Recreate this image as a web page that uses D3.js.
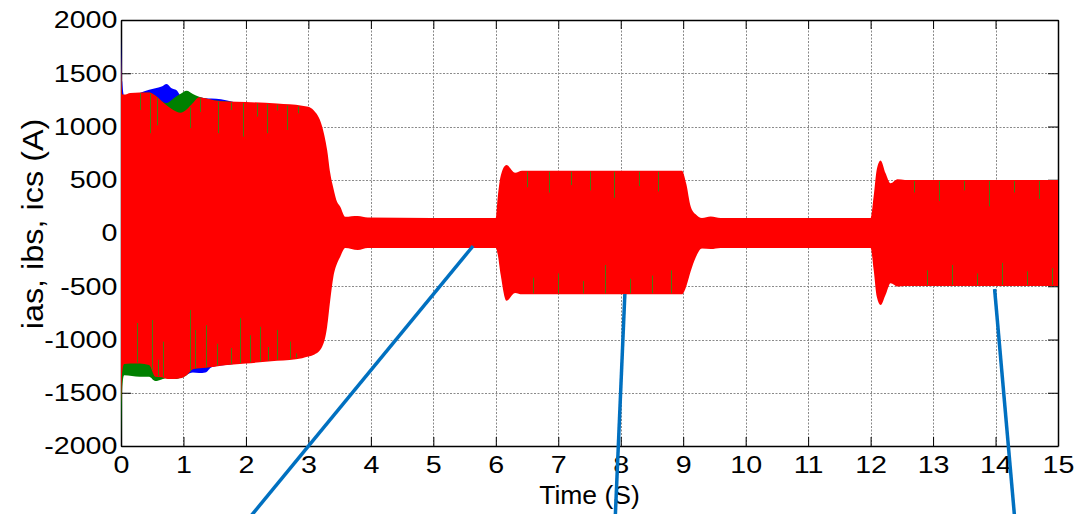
<!DOCTYPE html>
<html lang="en">
    <head>
        <meta charset="utf-8">
        <title>ias, ibs, ics (A)</title>
        <script type="text/javascript" src="https://cdn.jsdelivr.net/npm/d3@7"></script>
        <style>
            body { margin: 0; background: #fff; }
        </style>
    </head>
    <body>
        <script type="text/javascript">
        // envelope of the red phase (drawn on top)
        var redTime  = [0, 0.02, 0.05, 0.15, 0.3, 0.45, 0.55, 0.65, 0.75, 0.85, 0.95, 1.05, 1.15, 1.25, 1.35,
                        1.5, 1.7, 2.0, 2.5, 2.9, 3.0, 3.08, 3.22, 3.30, 3.35, 3.40, 3.46, 3.51, 3.59, 3.79, 3.95,
                        6.0, 6.03, 6.08, 6.17, 6.31, 6.42, 8.98, 9.05, 9.12, 9.2, 9.3, 9.44, 9.6,
                        12.0, 12.05, 12.1, 12.16, 12.24, 12.32, 12.43, 12.55, 15.0];
        var redUpper = [1690, 1300, 1300, 1315, 1320, 1320, 1290, 1240, 1190, 1150, 1130, 1160, 1220, 1275, 1265,
                        1245, 1235, 1230, 1215, 1195, 1185, 1155, 1000, 780, 560, 420, 290, 247, 153, 160, 145,
                        140, 330, 540, 638, 566, 585, 585, 460, 250, 175, 140, 155, 140,
                        140, 350, 600, 680, 560, 466, 504, 498, 498];
        var redLower = [-1600, -1300, -1230, -1225, -1225, -1240, -1350, -1355, -1370, -1370, -1365, -1335, -1280, -1270, -1265,
                        -1255, -1240, -1225, -1200, -1175, -1160, -1145, -1067, -880, -630, -410, -285, -222, -141, -160, -140,
                        -140, -200, -400, -636, -563, -576, -576, -500, -360, -230, -145, -150, -140,
                        -140, -350, -600, -676, -580, -472, -502, -498, -498];

        // blue and green only show during start-up, later they hide under red
        var startTime  = [0, 0.02, 0.05, 0.3, 0.45, 0.55, 0.65, 0.73, 0.81, 0.89, 0.95, 1.05, 1.15, 1.25, 1.35, 1.45, 1.6, 1.8];
        var blueUpper  = [1850, 1420, 1290, 1315, 1345, 1360, 1375, 1400, 1360, 1340, 1290, 1260, 1260, 1275, 1265, 1262, 1255, 1230];
        var blueLower  = [-1550, -1300, -1230, -1225, -1240, -1340, -1350, -1360, -1360, -1360, -1350, -1330, -1310, -1315, -1310, -1260, -1245, -1230];
        var greenUpper = [1650, 1300, 1290, 1315, 1320, 1290, 1240, 1220, 1250, 1285, 1305, 1336, 1306, 1280, 1262, 1250, 1240, 1230];
        var greenLower = [-1950, -1440, -1335, -1350, -1350, -1390, -1375, -1365, -1370, -1370, -1360, -1335, -1280, -1270, -1265, -1255, -1240, -1230];

        // thin dark stripes inside the red band (positive = hangs from top edge)
        var stripeTime = [0.25, 0.5, 0.6, 0.67, 1.1, 1.18, 1.36, 1.54, 1.76, 1.9, 2.06, 2.22, 2.36, 2.5, 2.7, 2.8,
                          0.3, 0.47, 0.57, 1.1, 1.27, 1.55, 1.76, 1.96, 2.17, 2.33, 2.5, 2.65, 2.84,
                          6.5, 6.85, 7.2, 7.5, 7.9, 8.3, 8.6, 6.6, 7.0, 7.4, 7.75, 8.15, 8.5, 8.8,
                          12.7, 13.1, 13.5, 13.9, 14.3, 14.7, 12.9, 13.3, 13.7, 14.1, 14.5, 14.9];
        var stripeEnd  = [-845, -817, -1190, -1020, -723, -911, -866, -1040, -1080, -800, -960, -880, -1070, -910, -1020, -1130,
                          1155, 937, 1010, 985, 1136, 937, 1155, 905, 1093, 937, 1150, 967, 1124,
                          430, 380, 450, 400, 330, 440, 390, -420, -380, -450, -300, -430, -400, -350,
                          380, 300, 400, 250, 380, 320, -350, -300, -380, -280, -360, -330];

        var xTicks = [0, 1, 2, 3, 4, 5, 6, 7, 8, 9, 10, 11, 12, 13, 14, 15];
        var yTicks = [-2000, -1500, -1000, -500, 0, 500, 1000, 1500, 2000];

        // blue pointer lines, in data units (they run past the axes)
        var pointerX1 = [5.636, 8.066, 13.985];
        var pointerY1 = [-122, -573, -526];
        var pointerX2 = [2.02, 7.91, 14.31];
        var pointerY2 = [-2700, -2700, -2700];

        var w = 1079;
        var h = 514;
        var font = "'Liberation Sans', Arial, sans-serif";
        var plain = function(d) { return String(d); };

        var x = d3.scaleLinear().domain([0, 15]).range([121, 1058]);
        var y = d3.scaleLinear().domain([-2000, 2000]).range([446, 20]);

        var svg = d3.select("body")
                    .append("svg")
                    .attr("width", w)
                    .attr("height", h)
                    .style("display", "block");

        svg.append("rect")
            .attr("width", w)
            .attr("height", h)
            .attr("fill", "white");

        // dotted grid
        var grid = svg.append("g");
        grid.selectAll("line.gx")
            .data(xTicks.slice(1, -1))
            .enter()
            .append("line")
            .attr("class", "gx")
            .attr("x1", function(d) { return Math.round(x(d)) + 0.5; })
            .attr("x2", function(d) { return Math.round(x(d)) + 0.5; })
            .attr("y1", y(2000))
            .attr("y2", y(-2000));
        grid.selectAll("line.gy")
            .data(yTicks.slice(1, -1))
            .enter()
            .append("line")
            .attr("class", "gy")
            .attr("x1", x(0))
            .attr("x2", x(15))
            .attr("y1", function(d) { return Math.round(y(d)) + 0.5; })
            .attr("y2", function(d) { return Math.round(y(d)) + 0.5; });
        grid.selectAll("line")
            .attr("stroke", "#8a8a8a")
            .attr("stroke-width", 1)
            .attr("stroke-dasharray", "2,1.5");

        // box with inward ticks
        var axBottom = svg.append("g")
            .attr("transform", "translate(0," + y(-2000) + ")")
            .call(d3.axisBottom(x).tickValues(xTicks).tickFormat(plain).tickSize(-9).tickSizeOuter(0).tickPadding(10));
        var axTop = svg.append("g")
            .attr("transform", "translate(0," + y(2000) + ")")
            .call(d3.axisTop(x).tickValues(xTicks).tickSize(-9).tickSizeOuter(0).tickFormat(""));
        var axLeft = svg.append("g")
            .attr("transform", "translate(" + x(0) + ",0)")
            .call(d3.axisLeft(y).tickValues(yTicks).tickFormat(plain).tickSize(-10).tickSizeOuter(0).tickPadding(3));
        var axRight = svg.append("g")
            .attr("transform", "translate(" + x(15) + ",0)")
            .call(d3.axisRight(y).tickValues(yTicks).tickSize(-10).tickSizeOuter(0).tickFormat(""));

        [axBottom, axTop, axLeft, axRight].forEach(function(g) {
            g.select(".domain").attr("stroke", "#000").attr("stroke-width", 1.5);
            g.selectAll(".tick line").attr("stroke", "#000").attr("stroke-width", 1);
            g.selectAll("text")
                .attr("font-family", font)
                .attr("font-size", "24.5px")
                .attr("fill", "#000")
                .attr("transform", "scale(1.17,1)");
        });

        // phase currents as filled envelopes: blue, green, then red on top
        var area = d3.area()
            .curve(d3.curveMonotoneX)
            .x(function(d) { return x(d.t); })
            .y0(function(d) { return y(d.lo); })
            .y1(function(d) { return y(d.hi); });

        function band(times, hi, lo) {
            return times.map(function(t, i) {
                return { t: t, hi: hi[i], lo: lo[i] };
            });
        }

        svg.append("path")
            .datum(band(startTime, blueUpper, blueLower))
            .attr("d", area)
            .attr("fill", "#0000ff");
        svg.append("path")
            .datum(band(startTime, greenUpper, greenLower))
            .attr("d", area)
            .attr("fill", "#008000");
        svg.append("path")
            .datum(band(redTime, redUpper, redLower))
            .attr("d", area)
            .attr("fill", "#ff0000");

        var upperAt = d3.scaleLinear().domain(redTime).range(redUpper);
        var lowerAt = d3.scaleLinear().domain(redTime).range(redLower);
        svg.append("g")
            .selectAll("line")
            .data(stripeTime)
            .enter()
            .append("line")
            .attr("x1", function(d) { return Math.round(x(d)) + 0.5; })
            .attr("x2", function(d) { return Math.round(x(d)) + 0.5; })
            .attr("y1", function(d, i) {
                return stripeEnd[i] > 0 ? y(upperAt(d)) + 1 : y(lowerAt(d)) - 1;
            })
            .attr("y2", function(d, i) { return y(stripeEnd[i]); })
            .attr("stroke", "#4a7a10")
            .attr("stroke-width", 1);

        // axis titles
        svg.append("text")
            .attr("x", (x(0) + x(15)) / 2)
            .attr("y", 503.5)
            .attr("text-anchor", "middle")
            .attr("font-family", font)
            .attr("font-size", "26.5px")
            .text("Time (S)");
        svg.append("text")
            .attr("transform", "translate(43,224) rotate(-90) scale(1.08,1)")
            .attr("text-anchor", "middle")
            .attr("font-family", font)
            .attr("font-size", "30px")
            .text("ias, ibs, ics (A)");

        // blue pointer lines
        svg.append("g")
            .selectAll("line")
            .data(pointerX1)
            .enter()
            .append("line")
            .attr("x1", function(d) { return x(d); })
            .attr("y1", function(d, i) { return y(pointerY1[i]); })
            .attr("x2", function(d, i) { return x(pointerX2[i]); })
            .attr("y2", function(d, i) { return y(pointerY2[i]); })
            .attr("stroke", "#0070c0")
            .attr("stroke-width", 3.5);
        </script>
    </body>
</html>
